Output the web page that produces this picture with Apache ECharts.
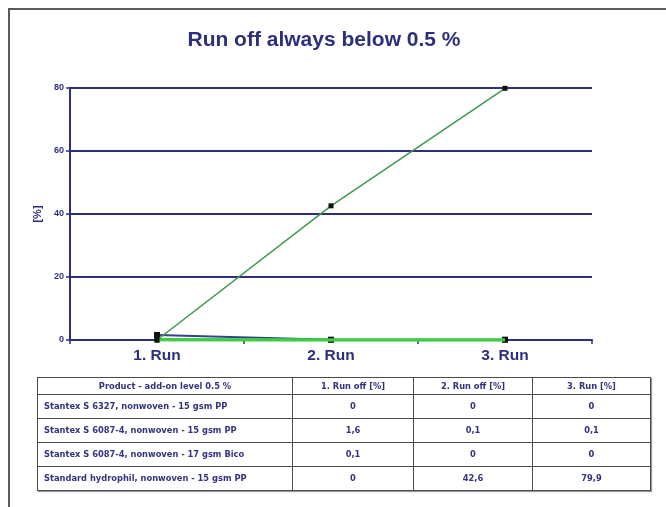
<!DOCTYPE html>
<html>
<head>
<meta charset="utf-8">
<script src="https://cdn.jsdelivr.net/npm/echarts@6/dist/echarts.min.js"></script>
<style>
  html, body { margin: 0; padding: 0; background: #fff; }
  #wrap { position: relative; width: 666px; height: 507px; overflow: hidden; }
  #frame { position: absolute; left: 8px; top: 8px; width: 700px; height: 600px;
    border-top: 2px solid #5a5a5a; border-left: 2px solid #5a5a5a; }
  #main { position: absolute; left: 0; top: 0; width: 666px; height: 507px; }
  #tbl { position: absolute; left: 37px; top: 377px; border-collapse: collapse;
    font-family: "DejaVu Sans", sans-serif; font-weight: bold; font-size: 8.3px;
    color: #34317e; box-shadow: 1px 1px 1px #999; }
  #tbl td { border: 1.5px solid #4a4a4a; text-align: center; padding: 0; }
  #tbl td.name { text-align: left; padding-left: 6px; }
</style>
</head>
<body>
<div id="wrap">
  <div id="frame"></div>
  <div id="main"></div>
  <table id="tbl"></table>
</div>
<script>
  // data
  let categories = ["1. Run", "2. Run", "3. Run"];
  let yTicks = [0, 20, 40, 60, 80];
  let products = [
    "Stantex S 6327,  nonwoven - 15 gsm PP",
    "Stantex S 6087-4,  nonwoven - 15 gsm PP",
    "Stantex S 6087-4, nonwoven - 17 gsm Bico",
    "Standard hydrophil, nonwoven - 15 gsm PP",
  ];
  let s6327 = [0, 0, 0];
  let s6087pp = [1.6, 0.1, 0.1];
  let s6087bico = [0.1, 0, 0];
  let hydrophil = [0, 42.6, 79.9];
  let tableHead = ["Product - add-on level 0.5 %", "1. Run off [%]", "2. Run off [%]", "3. Run [%]"];

  // table
  let colW = [254, 120, 118, 117];
  let rowH = [15.5, 23, 23, 23, 23];
  let allRows = [s6327, s6087pp, s6087bico, hydrophil];
  let html = "<tr>" + tableHead.map((h, i) =>
    `<td style="width:${colW[i]}px;height:${rowH[0]}px">${h}</td>`).join("") + "</tr>";
  allRows.forEach((vals, r) => {
    html += `<tr><td class="name" style="height:${rowH[r + 1]}px">${products[r]}</td>` +
      vals.map((v) => `<td>${String(v).replace(".", ",")}</td>`).join("") + "</tr>";
  });
  document.getElementById("tbl").innerHTML = html;

  let navy = "#2e2f7c";
  let myChart = echarts.init(document.getElementById("main"));
  let option = {
    animation: false,
    title: {
      text: "Run off always below 0.5 %",
      left: 319,
      top: 25,
      textAlign: "center",
      textStyle: { fontFamily: "Liberation Sans", fontWeight: "bold", fontSize: 21, color: navy },
    },
    grid: { left: 70, right: 74, top: 88, height: 252 },
    xAxis: {
      type: "category",
      data: categories,
      axisLine: { lineStyle: { color: navy, width: 2 } },
      axisTick: { show: true, length: 4, lineStyle: { color: navy, width: 1.5 } },
      axisLabel: { margin: 8, fontFamily: "Liberation Sans", fontWeight: "bold", fontSize: 15.5, color: navy },
    },
    yAxis: {
      type: "value",
      min: yTicks[0],
      max: yTicks[yTicks.length - 1],
      interval: 20,
      name: "[%]",
      nameLocation: "middle",
      nameRotate: 90,
      nameGap: 22,
      nameTextStyle: { fontFamily: "Liberation Sans", fontWeight: "bold", fontSize: 11, color: navy },
      axisLine: { show: true, lineStyle: { color: navy, width: 2 } },
      axisTick: { show: true, length: 4, lineStyle: { color: navy, width: 1.5 } },
      axisLabel: { margin: 6, fontFamily: "Liberation Sans", fontWeight: "bold", fontSize: 9, color: navy },
      splitLine: { lineStyle: { color: navy, width: 2 } },
    },
    series: [
      {
        name: products[0], type: "line", data: s6327,
        symbol: "rect", symbolSize: 5, itemStyle: { color: "#111" },
        lineStyle: { color: "#6a3f8a", width: 1.5 }, z: 2,
      },
      {
        name: products[1], type: "line", data: s6087pp,
        symbol: "rect", symbolSize: 6, itemStyle: { color: "#111" },
        lineStyle: { color: "#34408a", width: 2 }, z: 3,
      },
      {
        name: products[2], type: "line", data: s6087bico,
        symbol: "none",
        lineStyle: { color: "#3ecb45", width: 3.5 }, z: 4,
      },
      {
        name: products[3], type: "line", data: hydrophil,
        symbol: "rect", symbolSize: 5, itemStyle: { color: "#111" },
        lineStyle: { color: "#3d9a4c", width: 1.5 }, z: 5,
      },
    ],
  };
  myChart.setOption(option);
</script>
</body>
</html>
